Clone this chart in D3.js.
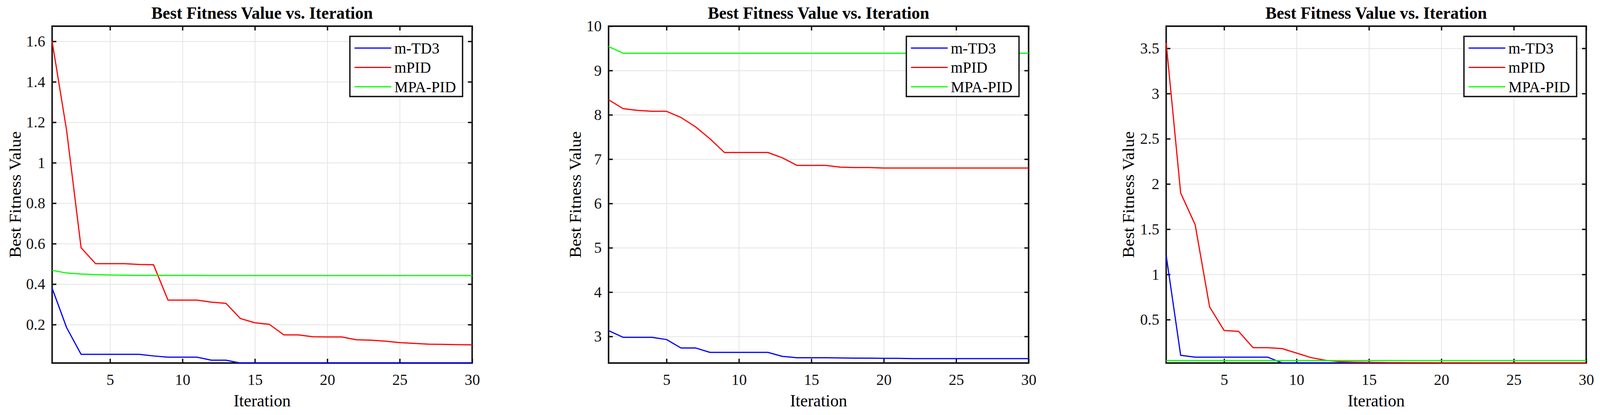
<!DOCTYPE html>
<html>
<head>
<meta charset="utf-8">
<script src="https://cdn.jsdelivr.net/npm/d3@7"></script>
<style>
  html, body { margin: 0; padding: 0; overflow: hidden; background: #fff; }
  svg { display: block; width: 100vw; height: 100vh; }
  text { font-family: "Liberation Serif", "Times New Roman", serif; }
</style>
</head>
<body>
<div id="my_dataviz"></div>
<script>
// data
const iterations = [1, 2, 3, 4, 5, 6, 7, 8, 9, 10, 11, 12, 13, 14, 15,
  16, 17, 18, 19, 20, 21, 22, 23, 24, 25, 26, 27, 28, 29, 30];
const seriesNames = ["m-TD3", "mPID", "MPA-PID"];
const seriesColors = ["#0000ff", "#ff0000", "#00ff00"];
const xTicks = [5, 10, 15, 20, 25, 30];

// panel 1
const p1Td3 = [0.38, 0.185, 0.053, 0.053, 0.053, 0.053, 0.053, 0.045, 0.039, 0.039,
  0.039, 0.024, 0.024, 0.01, 0.01, 0.01, 0.01, 0.01, 0.01, 0.01,
  0.01, 0.01, 0.01, 0.01, 0.01, 0.01, 0.01, 0.01, 0.01, 0.01];
const p1Pid = [1.6, 1.16, 0.58, 0.501, 0.501, 0.501, 0.497, 0.496, 0.321, 0.321,
  0.321, 0.311, 0.305, 0.23, 0.209, 0.201, 0.149, 0.149, 0.14, 0.139,
  0.139, 0.125, 0.123, 0.118, 0.111, 0.107, 0.103, 0.102, 0.101, 0.1];
const p1Mpa = [0.468, 0.455, 0.45, 0.447, 0.445, 0.444, 0.443, 0.443, 0.443, 0.443,
  0.443, 0.442, 0.442, 0.442, 0.442, 0.442, 0.442, 0.442, 0.442, 0.442,
  0.442, 0.442, 0.442, 0.442, 0.442, 0.442, 0.442, 0.442, 0.442, 0.442];
const p1Ticks = [0.2, 0.4, 0.6, 0.8, 1, 1.2, 1.4, 1.6];

// panel 2
const p2Td3 = [3.13, 2.98, 2.98, 2.98, 2.93, 2.74, 2.74, 2.64, 2.64, 2.64,
  2.64, 2.64, 2.55, 2.52, 2.52, 2.52, 2.515, 2.51, 2.51, 2.505,
  2.505, 2.5, 2.5, 2.5, 2.5, 2.5, 2.5, 2.5, 2.5, 2.5];
const p2Pid = [8.34, 8.14, 8.1, 8.08, 8.08, 7.94, 7.73, 7.46, 7.15, 7.15,
  7.15, 7.15, 7.03, 6.86, 6.86, 6.86, 6.82, 6.81, 6.81, 6.8,
  6.8, 6.8, 6.8, 6.8, 6.8, 6.8, 6.8, 6.8, 6.8, 6.8];
const p2Mpa = [9.54, 9.39, 9.39, 9.39, 9.39, 9.39, 9.39, 9.39, 9.39, 9.39,
  9.39, 9.39, 9.39, 9.39, 9.39, 9.39, 9.39, 9.39, 9.39, 9.39,
  9.39, 9.39, 9.39, 9.39, 9.39, 9.39, 9.39, 9.39, 9.39, 9.39];
const p2Ticks = [3, 4, 5, 6, 7, 8, 9, 10];

// panel 3
const p3Td3 = [1.21, 0.105, 0.085, 0.085, 0.085, 0.085, 0.085, 0.085, 0.022, 0.022,
  0.022, 0.022, 0.022, 0.022, 0.022, 0.022, 0.022, 0.022, 0.022, 0.022,
  0.022, 0.022, 0.022, 0.022, 0.022, 0.022, 0.022, 0.022, 0.022, 0.022];
const p3Pid = [3.56, 1.9, 1.55, 0.64, 0.38, 0.37, 0.19, 0.19, 0.18, 0.13,
  0.08, 0.05, 0.035, 0.03, 0.028, 0.025, 0.024, 0.023, 0.023, 0.022,
  0.022, 0.022, 0.021, 0.021, 0.021, 0.021, 0.021, 0.021, 0.021, 0.021];
const p3Mpa = [0.048, 0.047, 0.047, 0.047, 0.047, 0.047, 0.047, 0.047, 0.047, 0.047,
  0.047, 0.047, 0.047, 0.047, 0.047, 0.047, 0.047, 0.047, 0.047, 0.047,
  0.047, 0.047, 0.047, 0.047, 0.047, 0.047, 0.047, 0.047, 0.047, 0.047];
const p3Ticks = [0.5, 1, 1.5, 2, 2.5, 3, 3.5];

const panels = [
  {left: 136, yDomain: [0.01, 1.675], yTicks: p1Ticks, series: [p1Td3, p1Pid, p1Mpa], labelGap: 82},
  {left: 1588, yDomain: [2.4, 10], yTicks: p2Ticks, series: [p2Td3, p2Pid, p2Mpa], labelGap: 72},
  {left: 3043, yDomain: [0.02, 3.745], yTicks: p3Ticks, series: [p3Td3, p3Pid, p3Mpa], labelGap: 84}
];

// set the dimensions of each axes box
const plotTop = 67,
    width = 1096,
    height = 862;

// scale the whole drawing to the window so nothing falls off the right edge
const svg = d3.select("#my_dataviz")
  .append("svg")
    .attr("viewBox", "0 0 4175 1062")
    .attr("preserveAspectRatio", "none");

panels.forEach(function(p) {
  const g = svg.append("g")
    .attr("transform", `translate(${p.left}, ${plotTop})`);

  const x = d3.scaleLinear()
    .domain([1, 30])
    .range([0, width]);
  const y = d3.scaleLinear()
    .domain(p.yDomain)
    .range([height, 0]);

  // grid
  g.append("g")
    .attr("transform", `translate(0, ${height})`)
    .call(d3.axisBottom(x).tickValues(xTicks).tickSize(-height).tickFormat(""))
    .call(a => a.select(".domain").remove())
    .selectAll("line")
      .attr("class", "grid")
      .attr("stroke", "#e4e4e4")
      .attr("stroke-width", 2);
  g.append("g")
    .call(d3.axisLeft(y).tickValues(p.yTicks).tickSize(-width).tickFormat(""))
    .call(a => a.select(".domain").remove())
    .selectAll("line")
      .attr("class", "grid")
      .attr("stroke", "#e4e4e4")
      .attr("stroke-width", 2);

  // ticks on all four sides, pointing in
  const bottom = g.append("g")
    .attr("transform", `translate(0, ${height})`)
    .call(d3.axisBottom(x).tickValues(xTicks).tickSize(-11).tickPadding(28).tickFormat(d3.format("d")));
  const left = g.append("g")
    .call(d3.axisLeft(y).tickValues(p.yTicks).tickSize(-11).tickPadding(18).tickFormat(d => String(d)));
  g.append("g")
    .call(d3.axisTop(x).tickValues(xTicks).tickSize(-11).tickFormat(""));
  g.append("g")
    .attr("transform", `translate(${width}, 0)`)
    .call(d3.axisRight(y).tickValues(p.yTicks).tickSize(-11).tickFormat(""));

  g.selectAll(".domain").remove();
  g.selectAll(".tick line:not(.grid)")
    .attr("stroke", "#111")
    .attr("stroke-width", 3.5);
  bottom.selectAll("text")
    .style("font-size", "40px")
    .style("font-family", "'Liberation Serif', serif")
    .style("fill", "#111");
  left.selectAll("text")
    .style("font-size", "40px")
    .style("font-family", "'Liberation Serif', serif")
    .style("fill", "#111");

  // axes box
  g.append("rect")
    .attr("width", width)
    .attr("height", height)
    .attr("fill", "none")
    .attr("stroke", "#111")
    .attr("stroke-width", 4);

  // lines
  const line = d3.line()
    .x((d, i) => x(iterations[i]))
    .y(d => y(d));
  p.series.forEach(function(s, k) {
    g.append("path")
      .datum(s)
      .attr("fill", "none")
      .attr("stroke", seriesColors[k])
      .attr("stroke-width", 3)
      .attr("stroke-linejoin", "round")
      .attr("d", line);
  });

  // title and axis labels
  g.append("text")
    .attr("x", width / 2)
    .attr("y", -19)
    .attr("text-anchor", "middle")
    .style("font-size", "44px")
    .style("font-weight", "bold")
    .text("Best Fitness Value vs. Iteration");
  g.append("text")
    .attr("x", width / 2)
    .attr("y", 973)
    .attr("text-anchor", "middle")
    .style("font-size", "44px")
    .text("Iteration");
  g.append("text")
    .attr("transform", `translate(${-p.labelGap}, ${height / 2}) rotate(-90)`)
    .attr("text-anchor", "middle")
    .style("font-size", "44px")
    .text("Best Fitness Value");

  // legend
  const legend = g.append("g")
    .attr("transform", `translate(${width - 25 - 294}, 26)`);
  legend.append("rect")
    .attr("width", 294)
    .attr("height", 154)
    .attr("fill", "#fff")
    .attr("stroke", "#111")
    .attr("stroke-width", 3.5);
  legend.selectAll("mylines")
    .data(seriesNames)
    .join("line")
      .attr("x1", 12)
      .attr("x2", 108)
      .attr("y1", (d, i) => 30 + i * 49.5)
      .attr("y2", (d, i) => 30 + i * 49.5)
      .attr("stroke", (d, i) => seriesColors[i])
      .attr("stroke-width", 3);
  legend.selectAll("mylabels")
    .data(seriesNames)
    .join("text")
      .attr("x", 116)
      .attr("y", (d, i) => 44 + i * 49.5)
      .style("font-size", "40px")
      .text(d => d);
});
</script>
</body>
</html>
